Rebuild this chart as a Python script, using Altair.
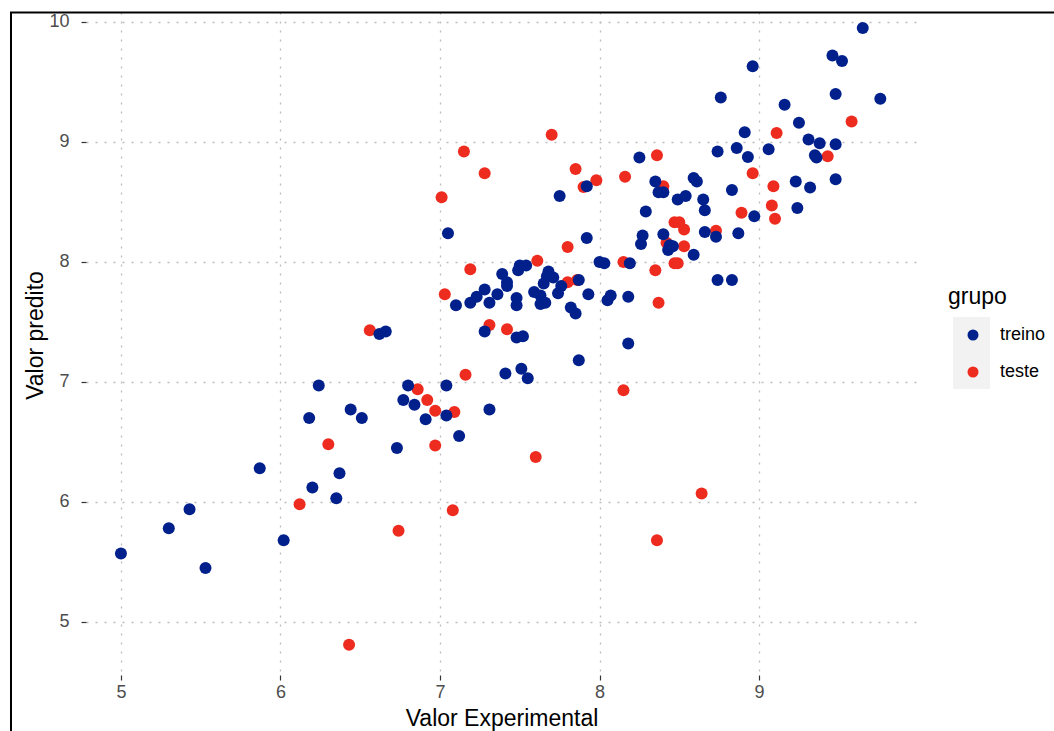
import altair as alt
import pandas as pd

# ---- data ----
treino_x = [5.00, 5.30, 5.43, 5.53, 5.87, 6.02, 6.18, 6.20, 6.24, 6.37, 6.35, 6.44, 6.51, 6.62, 6.66,
            6.73, 6.77, 6.80, 6.84, 6.91, 7.04, 7.04, 7.05, 7.12, 7.10, 7.19, 7.23, 7.28, 7.31, 7.28,
            7.31, 7.36, 7.39, 7.42, 7.42, 7.41, 7.48, 7.48, 7.49, 7.50, 7.54, 7.48, 7.52, 7.51, 7.55,
            7.59, 7.63, 7.65, 7.67, 7.68, 7.71, 7.63, 7.66, 7.74, 7.76, 7.75, 7.82, 7.85, 7.87, 7.87,
            7.92, 7.92, 7.93, 8.00, 8.03, 8.05, 8.07, 8.18, 8.19, 8.18, 8.25, 8.26, 8.27, 8.29, 8.35,
            8.37, 8.40, 8.40, 8.43, 8.44, 8.46, 8.49, 8.54, 8.59, 8.61, 8.65, 8.66, 8.59, 8.66, 8.74,
            8.73, 8.74, 8.76, 8.83, 8.83, 8.86, 8.87, 8.91, 8.93, 8.96, 8.97, 9.06, 9.16, 9.23, 9.24,
            9.25, 9.31, 9.32, 9.35, 9.36, 9.38, 9.46, 9.48, 9.48, 9.48, 9.52, 9.65, 9.76]
treino_y = [5.57, 5.78, 5.94, 5.45, 6.28, 5.68, 6.70, 6.12, 6.97, 6.24, 6.03, 6.77, 6.70, 7.40, 7.42,
            6.45, 6.85, 6.97, 6.81, 6.69, 6.97, 6.72, 8.24, 6.55, 7.64, 7.66, 7.71, 7.77, 7.66, 7.42,
            6.77, 7.73, 7.90, 7.83, 7.80, 7.07, 7.70, 7.64, 7.93, 7.97, 7.97, 7.37, 7.38, 7.11, 7.03,
            7.75, 7.72, 7.82, 7.88, 7.92, 7.87, 7.65, 7.66, 7.74, 7.80, 8.55, 7.62, 7.57, 7.85, 7.18,
            8.20, 8.63, 7.73, 8.00, 7.99, 7.68, 7.72, 7.71, 7.99, 7.32, 8.87, 8.15, 8.22, 8.42, 8.67,
            8.58, 8.58, 8.23, 8.10, 8.14, 8.13, 8.52, 8.55, 8.70, 8.67, 8.52, 8.43, 8.06, 8.25, 8.92,
            8.21, 7.85, 9.37, 7.85, 8.60, 8.95, 8.24, 9.08, 8.875, 9.63, 8.38, 8.94, 9.31, 8.67, 8.45,
            9.16, 9.02, 8.62, 8.89, 8.87, 8.99, 9.72, 8.98, 9.40, 8.69, 9.675, 9.95, 9.36]

teste_x = [6.12, 6.30, 6.43, 6.56, 6.74, 6.86, 6.92, 6.97, 6.97, 7.01, 7.03, 7.09, 7.08, 7.15, 7.16,
           7.19, 7.28, 7.31, 7.42, 7.60, 7.61, 7.70, 7.80, 7.80, 7.85, 7.90, 7.98, 8.15, 8.16, 8.15,
           8.36, 8.35, 8.37, 8.36, 8.40, 8.42, 8.47, 8.50, 8.53, 8.47, 8.49, 8.53, 8.64, 8.73, 8.89,
           8.96, 9.08, 9.09, 9.10, 9.11, 9.43, 9.58, 7.86]
teste_y = [5.98, 6.48, 4.81, 7.43, 5.76, 6.94, 6.85, 6.76, 6.47, 8.54, 7.73, 6.75, 5.93, 8.92, 7.06,
           7.94, 8.74, 7.475, 7.44, 6.375, 8.01, 9.06, 8.125, 7.83, 8.775, 8.625, 8.68, 6.93, 8.71, 8.00,
           8.89, 7.93, 7.66, 5.68, 8.63, 8.16, 8.33, 8.33, 8.27, 7.99, 7.99, 8.13, 6.07, 8.26, 8.41,
           8.74, 8.47, 8.63, 8.36, 9.075, 8.88, 9.17, 7.85]

grupos = ["treino", "teste"]
cores = ["#01208C", "#EE2B1F"]
x_ticks = [5, 6, 7, 8, 9]
y_ticks = [5, 6, 7, 8, 9, 10]

df = pd.DataFrame({
    "exp": teste_x + treino_x,
    "pred": teste_y + treino_y,
    "grupo": ["teste"] * len(teste_x) + ["treino"] * len(treino_x),
})

FONT = "Liberation Sans"
W, H = 831, 663

points = alt.Chart(df).mark_circle(size=144, opacity=1).encode(
    x=alt.X("exp:Q",
            scale=alt.Scale(domain=[4.781, 9.99], nice=False, zero=False),
            axis=alt.Axis(values=x_ticks, format="d", title="Valor Experimental",
                          titleY=50, titleBaseline="alphabetic", labelPadding=3)),
    y=alt.Y("pred:Q",
            scale=alt.Scale(domain=[4.558, 10.083], nice=False, zero=False),
            axis=alt.Axis(values=y_ticks, format="d", title="Valor predito",
                          titleX=-44, titleY=323, titleBaseline="alphabetic", labelPadding=12)),
    color=alt.Color("grupo:N",
                    scale=alt.Scale(domain=grupos, range=cores),
                    legend=alt.Legend(orient="none", legendX=862, legendY=274,
                                      title="grupo", titleFontSize=23, titleFontWeight="normal",
                                      titleColor="black", titleFont=FONT, titlePadding=17,
                                      labelFontSize=18, labelColor="black", labelFont=FONT,
                                      symbolType="circle", symbolSize=121, symbolStrokeWidth=0,
                                      symbolOpacity=1, rowPadding=19, symbolOffset=16,
                                      labelOffset=18, padding=0)),
)

key_bg = alt.Chart(pd.DataFrame({"k": [0]})).mark_rect(color="#F2F2F2").encode(
    x=alt.value(867), x2=alt.value(904), y=alt.value(305), y2=alt.value(377)
)

frame = alt.Chart(pd.DataFrame({"k": [0]})).mark_rect(
    fillOpacity=0, stroke="black", strokeWidth=2
).encode(
    x=alt.value(-75), x2=alt.value(980), y=alt.value(0.5), y2=alt.value(760)
)

chart = alt.layer(key_bg, points, frame).properties(
    width=W, height=H,
    autosize=alt.AutoSizeParams(type="none"),
    padding={"left": 86, "top": 12, "right": 137, "bottom": 56},
    background="white",
).configure_view(stroke=None).configure_axis(
    labelFont=FONT, labelFontSize=18, labelColor="#4D4D4D",
    titleFont=FONT, titleFontSize=23, titleColor="black", titleFontWeight="normal",
    tickColor="#333333", tickSize=5, tickWidth=1.2, domain=False,
    grid=True, gridColor="#BDBDBD", gridDash=[2, 7], gridWidth=1.3,
)

chart.save("out.html", embed_options={"renderer": "svg", "actions": False})
